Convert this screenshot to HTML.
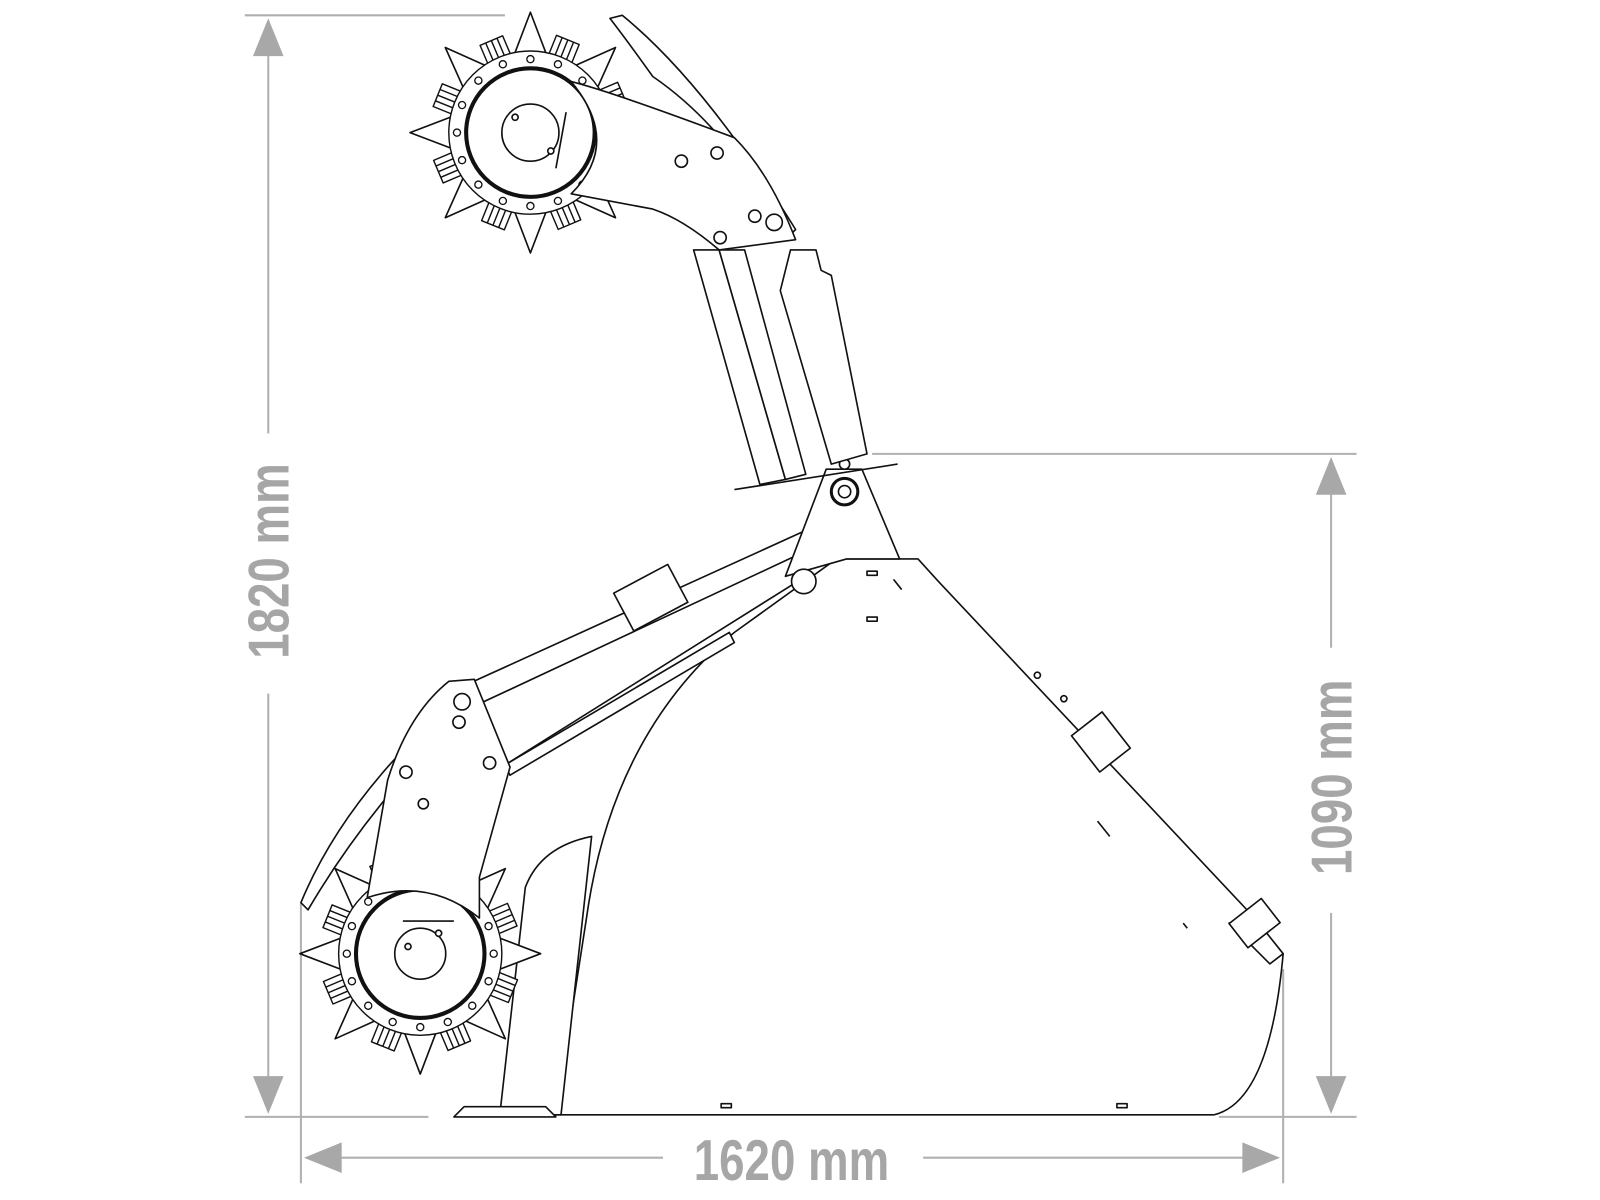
<!DOCTYPE html>
<html><head><meta charset="utf-8"><style>
html,body{margin:0;padding:0;background:#fff;}
svg{display:block;}
text{font-family:"Liberation Sans",sans-serif;font-weight:bold;fill:#a6a6a6;}
</style></head><body>
<svg width="1600" height="1200" viewBox="0 0 1600 1200" xmlns="http://www.w3.org/2000/svg">
<defs>
<g id="tooth" fill="#fff" stroke="#111" stroke-width="1.6" stroke-linejoin="round">
<polygon points="-16,-76 0,-118 16,-76"/>
</g>
<g id="fin" fill="#fff" stroke="#111" stroke-width="1.4">
<rect x="-12" y="-98" width="24" height="20"/>
<line x1="-6" y1="-98" x2="-6" y2="-78"/><line x1="0" y1="-98" x2="0" y2="-78"/><line x1="6" y1="-98" x2="6" y2="-78"/>
</g>
<g id="rotor">
<use href="#fin" transform="rotate(22)"/><use href="#fin" transform="rotate(67)"/><use href="#fin" transform="rotate(112)"/><use href="#fin" transform="rotate(157)"/><use href="#fin" transform="rotate(202)"/><use href="#fin" transform="rotate(247)"/><use href="#fin" transform="rotate(292)"/><use href="#fin" transform="rotate(337)"/>
<use href="#tooth" transform="rotate(0)"/><use href="#tooth" transform="rotate(45)"/><use href="#tooth" transform="rotate(90)"/><use href="#tooth" transform="rotate(135)"/><use href="#tooth" transform="rotate(180)"/><use href="#tooth" transform="rotate(225)"/><use href="#tooth" transform="rotate(270)"/><use href="#tooth" transform="rotate(315)"/>
<circle r="80" fill="#fff" stroke="#111" stroke-width="1.4"/>
<circle r="63" fill="none" stroke="#111" stroke-width="4"/>
<g fill="#fff" stroke="#111" stroke-width="1.3">
<circle cx="0" cy="-72" r="3.5"/><circle cx="27" cy="-67" r="3.5"/><circle cx="51" cy="-51" r="3.5"/><circle cx="67" cy="-27" r="3.5"/><circle cx="72" cy="0" r="3.5"/><circle cx="67" cy="27" r="3.5"/><circle cx="51" cy="51" r="3.5"/><circle cx="27" cy="67" r="3.5"/><circle cx="0" cy="72" r="3.5"/><circle cx="-27" cy="67" r="3.5"/><circle cx="-51" cy="51" r="3.5"/><circle cx="-67" cy="27" r="3.5"/><circle cx="-72" cy="0" r="3.5"/><circle cx="-67" cy="-27" r="3.5"/><circle cx="-51" cy="-51" r="3.5"/><circle cx="-27" cy="-67" r="3.5"/>
</g>
</g>
</defs>
<g transform="scale(1.02)">
<g stroke="#b0b0b0" stroke-width="2" fill="none">
<line x1="240" y1="15" x2="495" y2="15"/>
<line x1="240" y1="1095" x2="420" y2="1095"/>
<line x1="263" y1="50" x2="263" y2="425"/>
<line x1="263" y1="680" x2="263" y2="1060"/>
<line x1="855" y1="445" x2="1330" y2="445"/>
<line x1="1195" y1="1095" x2="1330" y2="1095"/>
<line x1="1305" y1="480" x2="1305" y2="635"/>
<line x1="1305" y1="895" x2="1305" y2="1060"/>
<line x1="295" y1="885" x2="295" y2="1160"/>
<line x1="1258" y1="950" x2="1258" y2="1160"/>
<line x1="330" y1="1135" x2="650" y2="1135"/>
<line x1="905" y1="1135" x2="1225" y2="1135"/>
</g>
<g fill="#a8a8a8">
<polygon points="263,18 248,55 278,55"/>
<polygon points="263,1092 248,1055 278,1055"/>
<polygon points="1305,448 1290,485 1320,485"/>
<polygon points="1305,1092 1290,1055 1320,1055"/>
<polygon points="298,1135 335,1120 335,1150"/>
<polygon points="1255,1135 1218,1120 1218,1150"/>
</g>
<text x="0" y="0" font-size="56" text-anchor="middle" transform="translate(283,550) rotate(-90) scale(0.8,1)">1820 mm</text>
<text x="0" y="0" font-size="56" text-anchor="middle" transform="translate(1325,762) rotate(-90) scale(0.8,1)">1090 mm</text>
<text x="0" y="0" font-size="56" text-anchor="middle" transform="translate(776,1157) scale(0.8,1)">1620 mm</text>

<g fill="#fff" stroke="#111" stroke-width="1.6" stroke-linejoin="round">
<path d="M545,1093 L1190,1093 Q1245,1080 1258,935 L1230,900 L920,570 L900,548 L820,548 L720,620 Q600,720 575,900 Z"/>
<path d="M1230,900 L1258,935 L1245,945 L1205,905 Z"/>
<rect x="1060" y="705" width="38" height="45" transform="rotate(-38 1079 727)"/>
<rect x="1210" y="890" width="40" height="30" transform="rotate(-38 1230 905)"/>
<path d="M490,1093 L515,870 Q530,830 580,820 L550,1093 Z"/>
<path d="M445,1095 L455,1085 L535,1085 L545,1095 Z"/>
<rect x="850" y="560" width="10" height="4"/><rect x="850" y="605" width="10" height="4"/>
<rect x="707" y="1082" width="10" height="4"/><rect x="1095" y="1082" width="10" height="4"/>
<line x1="876" y1="568" x2="884" y2="578"/><line x1="1076" y1="805" x2="1088" y2="820"/><line x1="1160" y1="905" x2="1164" y2="910"/>
<circle cx="1017" cy="662" r="3"/><circle cx="1043" cy="685" r="3"/>

<path d="M460,670 L790,520 L800,540 L470,690 Z"/>
<path d="M495,750 L715,620 L720,630 L500,760 Z"/>
<path d="M470,690 L780,545 L790,565 L495,750 Z"/>
<rect x="608" y="565" width="60" height="42" transform="rotate(-28 638 586)"/>
<path d="M770,565 L810,460 L845,460 L882,548 L830,548 Z"/>
<circle cx="788" cy="570" r="12"/>
<circle cx="828" cy="482" r="13" stroke-width="3"/>
<circle cx="828" cy="482" r="6"/>
<circle cx="828" cy="455" r="5"/>
<line x1="720" y1="480" x2="880" y2="455"/>

<path d="M680,245 L705,245 L770,470 L745,475 Z"/>
<path d="M705,245 L730,245 L790,465 L770,470 Z"/>
<path d="M775,245 L800,245 L805,265 L815,270 L850,445 L815,455 L765,285 Z"/>

<path d="M598,18 L610,15 Q690,80 780,225 L770,235 Q720,130 640,75 Q615,40 598,18 Z"/>

<use href="#rotor" transform="translate(520,130)"/>
<path d="M560,80 Q600,90 720,135 Q755,170 780,235 L705,245 Q670,215 640,205 L560,190 Q610,140 560,80 Z"/>
<circle cx="520" cy="130" r="28"/>
<circle cx="505" cy="115" r="3"/><circle cx="540" cy="148" r="3"/>
<line x1="555" y1="110" x2="545" y2="165"/>
<circle cx="668" cy="158" r="6"/><circle cx="703" cy="150" r="6"/><circle cx="740" cy="212" r="6"/><circle cx="759" cy="218" r="8"/><circle cx="706" cy="233" r="6"/>

<path d="M295,885 Q330,800 410,720 L420,735 Q350,810 302,892 Z"/>
<use href="#rotor" transform="translate(412,935)"/>
<path d="M380,765 Q400,700 440,668 L465,666 L500,752 L470,860 L470,900 Q420,860 360,880 Z"/>
<circle cx="412" cy="935" r="25"/>
<circle cx="400" cy="928" r="3"/><circle cx="430" cy="915" r="3"/>
<line x1="395" y1="903" x2="445" y2="903"/>
<circle cx="453" cy="688" r="8"/><circle cx="450" cy="708" r="6"/><circle cx="480" cy="748" r="6"/><circle cx="398" cy="757" r="6"/><circle cx="415" cy="788" r="5"/>
</g>
</g>
</svg>
</body></html>
